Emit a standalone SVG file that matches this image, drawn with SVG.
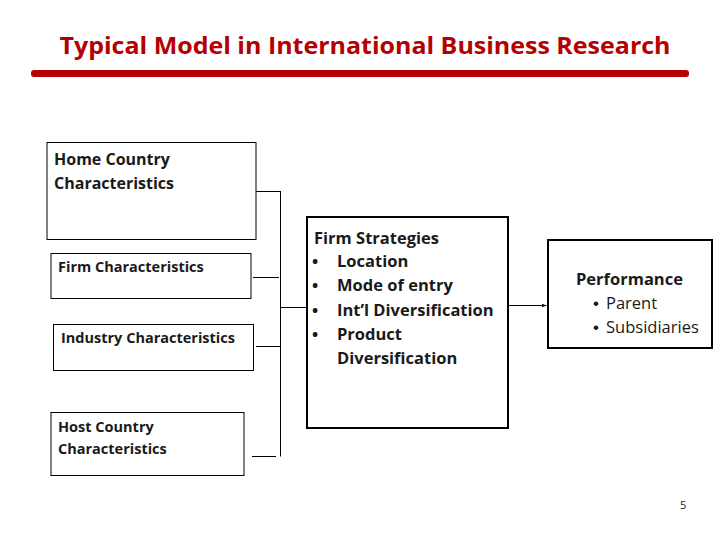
<svg xmlns="http://www.w3.org/2000/svg" width="728" height="546" viewBox="0 0 728 546">
<style>
.box{fill:#fff;stroke:#000;stroke-width:1}
.thick{fill:#fff;stroke:#000;stroke-width:2}
.t{font-family:"Open Sans","Liberation Sans",Arial,sans-serif;font-weight:bold;fill:#1a1a1a}
.n{font-family:"Open Sans","Liberation Sans",Arial,sans-serif;fill:#1a1a1a}
.b{font-family:"Liberation Sans",Arial,sans-serif;fill:#1a1a1a}
.c{stroke:#000;stroke-width:1;fill:none}
</style>
<defs>
<marker id="ah" viewBox="0 0 10 10" refX="10" refY="5" markerWidth="5" markerHeight="5" orient="auto"><path d="M0,1 L10,5 L0,9 z" fill="#000"/></marker>
</defs>
<rect width="728" height="546" fill="#fff"/>
<text x="365" y="54" text-anchor="middle" class="t" style="fill:#b40000" font-size="24" textLength="611" lengthAdjust="spacingAndGlyphs">Typical Model in International Business Research</text>
<rect x="31" y="70" width="658" height="7" rx="3" fill="#b80000"/>
<g id="home"><rect class="box" x="47" y="142.5" width="209" height="97"/>
<text class="t" font-size="16" x="54" y="165">Home Country</text><text class="t" font-size="16" x="54" y="189">Characteristics</text></g>
<g id="firm"><rect class="box" x="51" y="253.5" width="200" height="45"/>
<text class="t" font-size="14.5" x="58" y="272">Firm Characteristics</text></g>
<g id="industry"><rect class="box" x="53.5" y="324.5" width="200" height="46"/>
<text class="t" font-size="14.5" x="61" y="343">Industry Characteristics</text></g>
<g id="host"><rect class="box" x="51" y="412.5" width="193" height="63"/>
<text class="t" font-size="14.5" x="58" y="432">Host Country</text><text class="t" font-size="14.5" x="58" y="454">Characteristics</text></g>
<g id="strategies"><rect class="thick" x="307" y="217" width="201" height="211"/>
<text class="t" font-size="16.5" x="314" y="244">Firm Strategies</text>
<g class="t" font-size="16.5">
<text x="312" y="267">•</text><text x="337" y="267">Location</text>
<text x="312" y="291">•</text><text x="337" y="291">Mode of entry</text>
<text x="312" y="316">•</text><text x="337" y="316">Int’l Diversification</text>
<text x="312" y="340">•</text><text x="337" y="340">Product</text>
<text x="337" y="364">Diversification</text></g></g>
<g id="performance"><rect class="thick" x="548" y="240" width="164" height="108"/>
<text class="t" font-size="16.5" x="576" y="285">Performance</text>
<text class="b" font-size="17" x="593" y="309">•</text><text class="n" font-size="16.5" x="606" y="309">Parent</text>
<text class="b" font-size="17" x="593" y="333">•</text><text class="n" font-size="16.5" x="606" y="333">Subsidiaries</text></g>
<g id="connectors">
<path class="c" d="M256,191.5 H280.5 M280.5,191 V456.5 M253,277.5 H279 M256,346.5 H280 M252,456.5 H276 M280.5,307.5 H307"/>
<path class="c" d="M508,305.5 H546.5" marker-end="url(#ah)"/>
</g>
<text class="n" font-size="11" x="680" y="509">5</text>
</svg>
